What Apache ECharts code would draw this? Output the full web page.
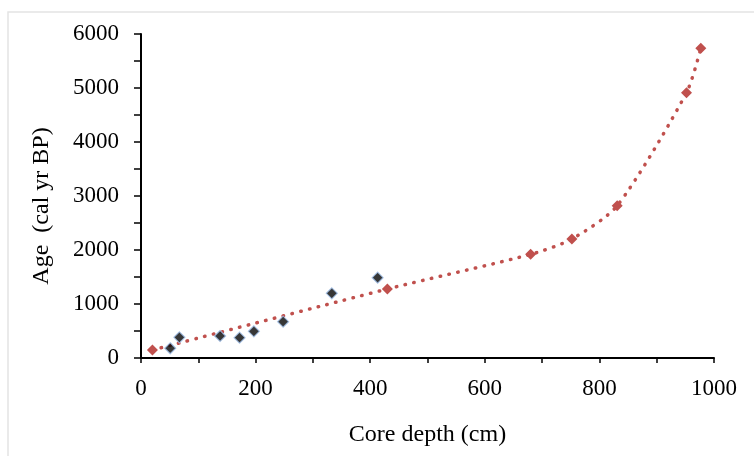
<!DOCTYPE html>
<html>
<head>
<meta charset="utf-8">
<script src="https://cdn.jsdelivr.net/npm/echarts@6/dist/echarts.min.js"></script>
<style>html,body{margin:0;padding:0;background:#fff;}#c{width:754px;height:456px;}</style>
</head>
<body>
<div id="c"></div>
<script>
// Measured dates (black diamonds)
const measuredDepth = [51, 67, 138, 172, 197, 248, 333, 413];
const measuredAge   = [180, 383, 407, 376, 494, 673, 1198, 1488];
// Age model (red diamonds + dotted line)
const modelDepth = [20, 430, 680, 752, 831, 952, 977];
const modelAge   = [148, 1278, 1920, 2204, 2820, 4913, 5735];
const xTicks = [0, 200, 400, 600, 800, 1000];
const yTicks = [0, 1000, 2000, 3000, 4000, 5000, 6000];

const font = 'Liberation Serif';
const chart = echarts.init(document.getElementById('c'));
chart.setOption({
  animation: false,
  backgroundColor: '#fff',
  graphic: [{
    type: 'rect', silent: true, z: -10,
    shape: { x: 8, y: 12, width: 800, height: 500 },
    style: { fill: 'none', stroke: '#e4e4e4', lineWidth: 1.5 }
  }],
  grid: { left: 141, right: 40, top: 34, bottom: 98, containLabel: false },
  xAxis: {
    type: 'value', min: xTicks[0], max: xTicks[xTicks.length - 1], interval: 200,
    name: 'Core depth (cm)', nameLocation: 'middle', nameGap: 65,
    nameTextStyle: { fontFamily: font, fontSize: 24, color: '#000' },
    axisLine: { show: true, lineStyle: { color: '#000', width: 2 } },
    axisTick: { show: true, length: 5, lineStyle: { color: '#000', width: 1.5 } },
    minorTick: { show: true, splitNumber: 2, length: 5, lineStyle: { color: '#000', width: 1.5 } },
    axisLabel: { fontFamily: font, fontSize: 23, color: '#000', margin: 19, formatter: v => String(v) },
    splitLine: { show: false }
  },
  yAxis: {
    type: 'value', min: yTicks[0], max: yTicks[yTicks.length - 1], interval: 1000,
    name: 'Age  (cal yr BP)', nameLocation: 'middle', nameGap: 87,
    nameTextStyle: { fontFamily: font, fontSize: 24, color: '#000', padding: [0, 20, 0, 0] },
    axisLine: { show: true, lineStyle: { color: '#000', width: 2 } },
    axisTick: { show: true, length: 7, lineStyle: { color: '#000', width: 1.5 } },
    minorTick: { show: true, splitNumber: 2, length: 7, lineStyle: { color: '#000', width: 1.5 } },
    axisLabel: { fontFamily: font, fontSize: 23, color: '#000', margin: 22, formatter: v => String(v) },
    splitLine: { show: false }
  },
  series: [{
    type: 'line',
    data: modelDepth.map((d, i) => [d, modelAge[i]]),
    smooth: 0.25,
    symbol: 'diamond', symbolSize: 11,
    itemStyle: { color: '#C0504D' },
    lineStyle: { color: '#C0504D', width: 3.5, type: [0.5, 8.5], cap: 'round' },
    z: 2
  }, {
    type: 'scatter',
    data: measuredDepth.map((d, i) => [d, measuredAge[i]]),
    symbol: 'diamond', symbolSize: 11,
    itemStyle: { color: '#050505', borderColor: '#9dbde6', borderWidth: 1.2 },
    z: 3
  }]
});
</script>
</body>
</html>
